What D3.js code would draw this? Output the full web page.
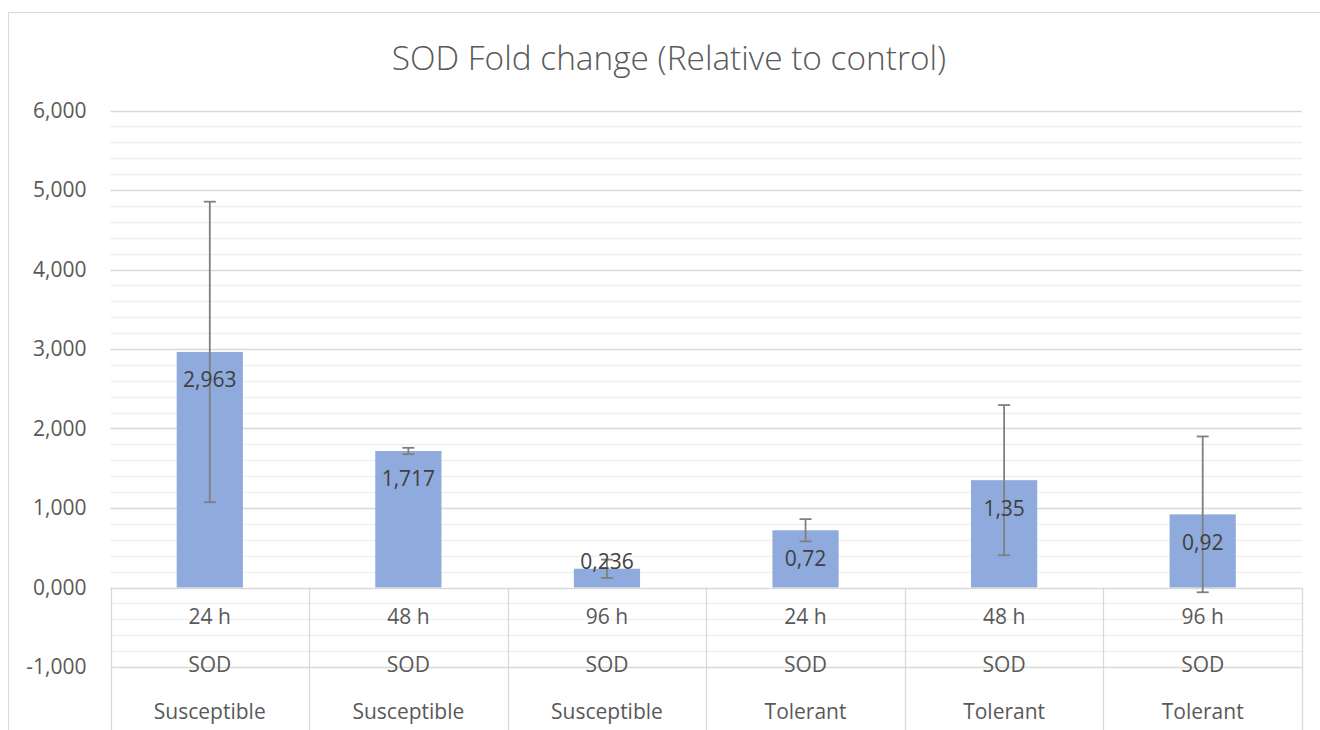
<!DOCTYPE html>
<html>
<head>
<meta charset="utf-8">
<script src="https://cdn.jsdelivr.net/npm/d3@7"></script>
<style>
  body { margin: 0; background: #fff; }
  text { font-family: "Open Sans", Lato, sans-serif; }
</style>
</head>
<body>
<div id="chart"></div>
<script>
// chart data
var timeLabels = ["24 h", "48 h", "96 h", "24 h", "48 h", "96 h"];
var geneLabels = ["SOD", "SOD", "SOD", "SOD", "SOD", "SOD"];
var groupLabels = ["Susceptible", "Susceptible", "Susceptible", "Tolerant", "Tolerant", "Tolerant"];
var foldValues = [2.963, 1.717, 0.236, 0.72, 1.35, 0.92];
var valueLabels = ["2,963", "1,717", "0,236", "0,72", "1,35", "0,92"];
var errorValues = [1.89, 0.04, 0.115, 0.14, 0.945, 0.98];
var yTicks = [-1, 0, 1, 2, 3, 4, 5, 6];

var width = 1320, height = 730;
// plot area edges (window.top is reserved, so use other names)
var plotLeft = 110.5, plotRight = 1302, plotTop = 110.5, plotBottom = 667;

var svg = d3.select("#chart")
    .append("svg")
    .attr("width", width)
    .attr("height", height);

// outer chart frame
svg.append("rect")
    .attr("x", 8.5).attr("y", 12.5)
    .attr("width", width + 10).attr("height", height + 10)
    .attr("fill", "#fff")
    .attr("stroke", "#d9d9d9");

svg.append("text")
    .attr("x", 669).attr("y", 70)
    .attr("text-anchor", "middle")
    .attr("font-size", 33.4)
    .attr("font-weight", 300)
    .attr("fill", "#595959")
    .text("SOD Fold change (Relative to control)");

var x = d3.scaleBand()
    .domain(d3.range(foldValues.length))
    .range([plotLeft, plotRight]);

var y = d3.scaleLinear()
    .domain([-1, 6])
    .range([plotBottom, plotTop]);

// minor gridlines every 0.2
var minor = d3.range(-1, 6.001, 0.2).filter(function(v) { return Math.abs(v - Math.round(v)) > 0.01; });
svg.append("g").selectAll("line")
    .data(minor)
    .enter().append("line")
    .attr("x1", plotLeft).attr("x2", plotRight)
    .attr("y1", function(d) { return Math.round(y(d)) + 0.5; })
    .attr("y2", function(d) { return Math.round(y(d)) + 0.5; })
    .attr("stroke", "#f0f0f0")
    .attr("stroke-width", 1.3);

// major gridlines
svg.append("g").selectAll("line")
    .data(yTicks)
    .enter().append("line")
    .attr("x1", plotLeft).attr("x2", plotRight)
    .attr("y1", function(d) { return Math.round(y(d)) + 0.5; })
    .attr("y2", function(d) { return Math.round(y(d)) + 0.5; })
    .attr("stroke", "#d9d9d9")
    .attr("stroke-width", 1.3);

// y axis labels, comma decimal and plain hyphen for negatives
var locale = d3.formatLocale({ decimal: ",", thousands: ".", grouping: [3], currency: ["", ""], minus: "-" });
var fmt = locale.format(".3f");
var yAxis = d3.axisLeft(y).tickValues(yTicks).tickFormat(fmt).tickSize(0).tickPadding(24);
var ga = svg.append("g")
    .attr("transform", "translate(" + plotLeft + ",0)")
    .call(yAxis);
ga.select(".domain").remove();
ga.selectAll("text")
    .attr("font-family", "'Open Sans', Lato, sans-serif")
    .attr("font-size", 21)
    .attr("fill", "#595959");

// category separators below zero line
var bounds = d3.range(foldValues.length + 1).map(function(i) {
    return i < foldValues.length ? x(i) : x(i - 1) + x.bandwidth();
});
svg.append("g").selectAll("line")
    .data(bounds)
    .enter().append("line")
    .attr("x1", function(d) { return Math.round(d) + 0.5; })
    .attr("x2", function(d) { return Math.round(d) + 0.5; })
    .attr("y1", y(0)).attr("y2", height)
    .attr("stroke", "#d9d9d9")
    .attr("stroke-width", 1.3);

// bars
var barW = x.bandwidth() / 3;
svg.append("g").selectAll("rect")
    .data(foldValues)
    .enter().append("rect")
    .attr("x", function(d, i) { return x(i) + x.bandwidth() / 2 - barW / 2; })
    .attr("y", function(d) { return y(d); })
    .attr("width", barW)
    .attr("height", function(d) { return y(0) - y(d); })
    .attr("fill", "#8faadc");

// error bars
var eb = svg.append("g").selectAll("g")
    .data(foldValues)
    .enter().append("g")
    .attr("stroke", "#7f7f7f")
    .attr("stroke-width", 1.8);
eb.append("line")
    .attr("x1", function(d, i) { return x(i) + x.bandwidth() / 2; })
    .attr("x2", function(d, i) { return x(i) + x.bandwidth() / 2; })
    .attr("y1", function(d, i) { return y(d + errorValues[i]); })
    .attr("y2", function(d, i) { return y(d - errorValues[i]); });
eb.append("line")
    .attr("x1", function(d, i) { return x(i) + x.bandwidth() / 2 - 6; })
    .attr("x2", function(d, i) { return x(i) + x.bandwidth() / 2 + 6; })
    .attr("y1", function(d, i) { return y(d + errorValues[i]); })
    .attr("y2", function(d, i) { return y(d + errorValues[i]); });
eb.append("line")
    .attr("x1", function(d, i) { return x(i) + x.bandwidth() / 2 - 6; })
    .attr("x2", function(d, i) { return x(i) + x.bandwidth() / 2 + 6; })
    .attr("y1", function(d, i) { return y(d - errorValues[i]); })
    .attr("y2", function(d, i) { return y(d - errorValues[i]); });

// value labels, inside end
svg.append("g").selectAll("text")
    .data(foldValues)
    .enter().append("text")
    .attr("x", function(d, i) { return x(i) + x.bandwidth() / 2; })
    .attr("y", function(d) { return Math.min(y(d) + 28, y(0) - 26); })
    .attr("dy", "0.35em")
    .attr("text-anchor", "middle")
    .attr("font-size", 21)
    .attr("fill", "#404040")
    .text(function(d, i) { return valueLabels[i]; });

// multi-level category labels
var rows = [
    { labels: timeLabels, y: 617 },
    { labels: geneLabels, y: 665 },
    { labels: groupLabels, y: 712 }
];
rows.forEach(function(r) {
    svg.append("g").selectAll("text")
        .data(r.labels)
        .enter().append("text")
        .attr("x", function(d, i) { return x(i) + x.bandwidth() / 2; })
        .attr("y", r.y)
        .attr("dy", "0.35em")
        .attr("text-anchor", "middle")
        .attr("font-size", 21)
        .attr("fill", "#595959")
        .text(function(d) { return d; });
});
</script>
</body>
</html>
